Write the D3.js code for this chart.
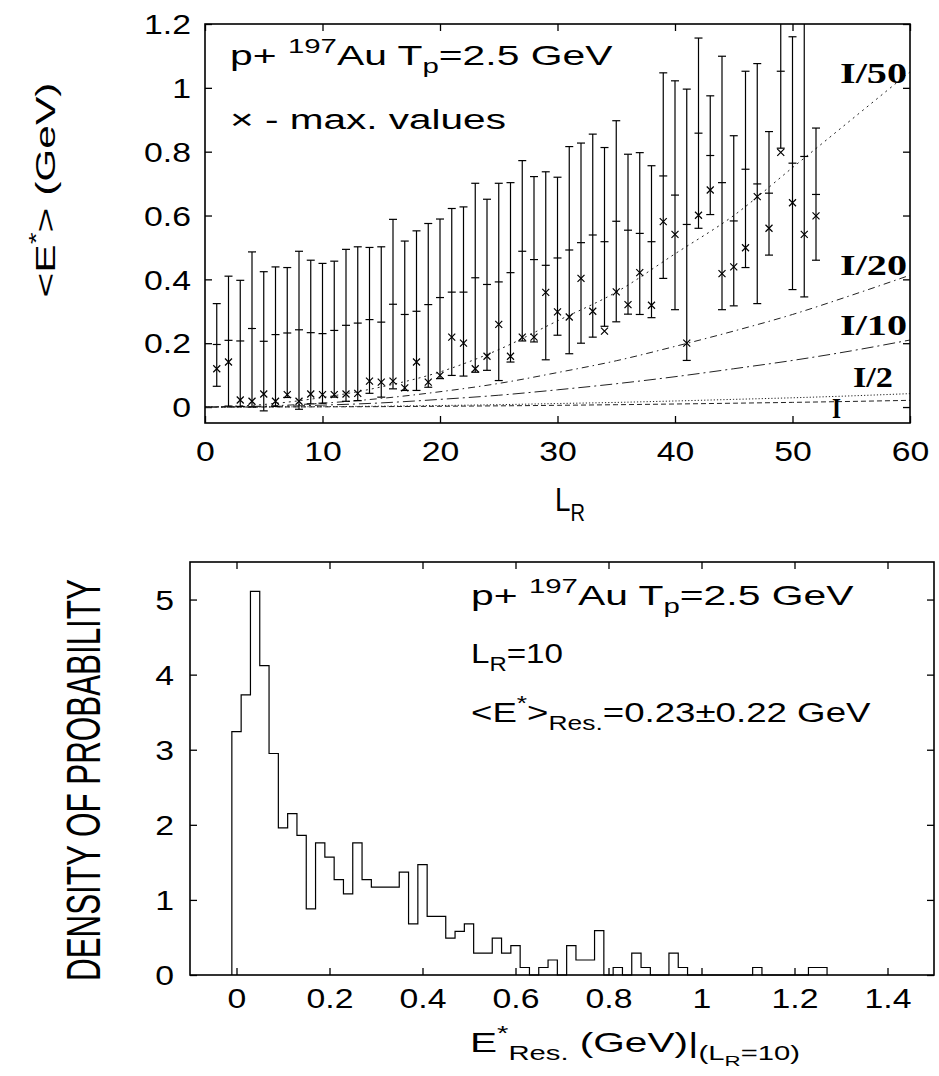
<!DOCTYPE html>
<html><head><meta charset="utf-8">
<script src="https://cdn.jsdelivr.net/npm/d3@7"></script>
<style>body{margin:0;background:#fff}svg{display:block}</style>
</head><body>
<svg id="c" width="939" height="1076"></svg>
<script>
// ---------- DATA: top panel ----------
const lr      = [1,2,3,4,5,6,7,8,9,10,11,12,13,14,15,16,17,18,19,20,21,22,23,24,25,26,27,28,29,30,31,32,33,34,35,36,37,38,39,40,41,42,43,44,45,46,47,48,49,50,51,52];
const meanE   = [0.196,0.209,0.207,0.246,0.206,0.227,0.232,0.242,0.233,0.23,0.24,0.256,0.263,0.274,0.266,0.322,0.29,0.3,0.321,0.343,0.36,0.36,0.405,0.384,0.392,0.421,0.488,0.462,0.444,0.467,0.492,0.515,0.539,0.518,0.582,0.554,0.544,0.518,0.724,0.664,0.572,0.858,0.788,0.703,0.583,0.745,0.699,0.67,1.052,0.764,0.785,0.666];
const lowE    = [0.065,0.003,0.002,0.0,-0.012,0.002,0.03,-0.007,0.01,0.012,0.031,0.018,0.02,0.043,0.031,0.057,0.052,0.052,0.062,0.089,0.099,0.097,0.109,0.115,0.083,0.141,0.207,0.204,0.148,0.225,0.167,0.2,0.219,0.253,0.267,0.291,0.29,0.28,0.403,0.305,0.146,0.56,0.603,0.305,0.317,0.437,0.324,0.476,0.811,0.368,0.345,0.46];
const highE   = [0.324,0.41,0.397,0.486,0.424,0.439,0.437,0.488,0.46,0.45,0.457,0.494,0.502,0.5,0.502,0.588,0.52,0.552,0.575,0.589,0.622,0.627,0.701,0.651,0.701,0.703,0.772,0.722,0.737,0.72,0.816,0.827,0.855,0.813,0.897,0.792,0.797,0.756,1.047,1.022,0.996,1.156,0.975,1.099,0.85,1.052,1.076,0.863,1.3,1.16,1.25,0.874];
const maxE    = [0.12,0.141,0.022,0.018,0.041,0.018,0.039,0.018,0.041,0.039,0.039,0.041,0.043,0.081,0.078,0.081,0.06,0.141,0.078,0.099,0.219,0.2,0.12,0.159,0.259,0.159,0.219,0.219,0.359,0.298,0.282,0.403,0.3,0.238,0.361,0.321,0.421,0.319,0.581,0.541,0.2,0.601,0.68,0.418,0.439,0.499,0.659,0.56,0.798,0.64,0.541,0.599];

const curveL   = [0,5,10,15,20,25,30,35,40,45,50,55,60];
const curveI50 = [0,0.008,0.03,0.063,0.11,0.18,0.27,0.36,0.48,0.6,0.75,0.9,1.05];
const curveI20 = [0,0.003,0.012,0.027,0.048,0.074,0.108,0.145,0.19,0.238,0.29,0.35,0.413];
const curveI10 = [0,0.0015,0.006,0.013,0.024,0.037,0.054,0.073,0.095,0.12,0.146,0.176,0.21];
const curveI2  = [0,0.0003,0.0012,0.0027,0.0048,0.0074,0.011,0.0145,0.019,0.024,0.029,0.035,0.042];
const curveI1  = [0,0.0002,0.0006,0.0013,0.0024,0.0037,0.0054,0.0073,0.0095,0.012,0.0146,0.0176,0.021];
const curveNames = ["I/50","I/20","I/10","I/2","I"];

const topXTicks = [0,10,20,30,40,50,60];
const topYTicks = [0,0.2,0.4,0.6,0.8,1,1.2];

// ---------- DATA: bottom panel (histogram, bin width 0.02 GeV, first edge -0.01) ----------
const histDensity = [3.24,3.73,5.11,4.12,2.95,1.96,2.15,1.86,0.88,1.76,1.57,1.27,1.08,1.76,1.27,1.17,1.17,1.17,1.37,0.68,1.47,0.78,0.78,0.49,0.58,0.68,0.29,0.29,0.49,0.29,0.39,0.1,0,0.1,0.2,0,0.39,0.2,0.2,0.59,0,0.1,0,0.29,0.1,0,0,0.29,0.1,0,0,0,0,0,0,0,0.1,0,0,0,0,0,0.1,0.1];
const histFirstEdge = -0.01, histBinWidth = 0.02;
const botXTicks = [0,0.2,0.4,0.6,0.8,1,1.2,1.4];
const botYTicks = [0,1,2,3,4,5];

// ---------- LAYOUT ----------
const SANS = "'Liberation Sans', Arial, Helvetica, sans-serif";
const SERIF = "'Liberation Serif', 'Times New Roman', serif";
const svg = d3.select("#c");
const TXS = 1.25; // horizontal stretch of tick labels

const x1 = d3.scaleLinear([0,60],[205,910]);
const y1 = d3.scaleLinear([-0.05,1.2],[423,24]);
const x2 = d3.scaleLinear([-0.1,1.5],[190,934]);
const y2 = d3.scaleLinear([0,5.5],[975,562]);

function stretchLabels(sel, s){
  sel.selectAll(".tick text").each(function(){
    const w = this.getComputedTextLength();
    this.setAttribute("textLength", w*s);
    this.setAttribute("lengthAdjust","spacingAndGlyphs");
  });
}
function styleAxis(g){
  g.select(".domain").remove();
  g.selectAll(".tick line").attr("stroke","#000").attr("stroke-width",1.3);
  g.selectAll(".tick text").attr("fill","#000").attr("font-family",SANS).attr("font-size",27);
}

function rich(parent, x, y, parts, opt){
  const g = parent.append("g");
  const F = opt.size;
  const t = g.append("text").attr("font-family", opt.family||SANS).attr("font-size",F)
     .attr("font-weight", opt.weight||"normal").attr("fill","#000");
  let cur = 0;
  parts.forEach(p=>{
    let lvl=0, fs=F;
    if(p.sup){lvl=-0.42*F; fs=0.72*F;}
    if(p.sub){lvl=0.3*F; fs=0.72*F;}
    if(p.sub2){lvl=0.5*F; fs=0.55*F;}
    t.append("tspan").attr("font-size",fs).attr("dy",lvl-cur).text(p.t);
    cur=lvl;
  });
  const bb = t.node().getBBox();
  const s = opt.width ? opt.width/bb.width : 1;
  const h = opt.hscale || 1;
  if(opt.rotate){
    t.attr("x", -(bb.x+bb.width/2));
    g.attr("transform",`translate(${x},${y}) rotate(-90) scale(${s},${h})`);
  } else {
    t.attr("x", -bb.x);
    g.attr("transform",`translate(${x},${y}) scale(${s},${h})`);
  }
  return g;
}

// ================= TOP PANEL =================
const topG = svg.append("g");
svg.append("defs").append("clipPath").attr("id","clipTop")
  .append("rect").attr("x",x1(0)).attr("y",y1(1.2)).attr("width",x1(60)-x1(0)).attr("height",y1(-0.05)-y1(1.2));

const gx1 = topG.append("g").attr("transform",`translate(0,${y1(-0.05)})`)
  .call(d3.axisBottom(x1).tickValues(topXTicks).tickSize(-7).tickPadding(19).tickFormat(d3.format("d")));
styleAxis(gx1); stretchLabels(gx1, TXS);
const gx1t = topG.append("g").attr("transform",`translate(0,${y1(1.2)})`)
  .call(d3.axisTop(x1).tickValues(topXTicks).tickSize(-7).tickFormat(""));
styleAxis(gx1t);
const gy1 = topG.append("g").attr("transform",`translate(${x1(0)},0)`)
  .call(d3.axisLeft(y1).tickValues(topYTicks).tickSize(-7).tickPadding(14).tickFormat(d3.format("~g")));
styleAxis(gy1); stretchLabels(gy1, TXS);
gy1.selectAll(".tick text").attr("dy","0.36em");
const gy1r = topG.append("g").attr("transform",`translate(${x1(60)},0)`)
  .call(d3.axisRight(y1).tickValues(topYTicks).tickSize(-7).tickFormat(""));
styleAxis(gy1r);

const curveSets = [curveI50, curveI20, curveI10, curveI2, curveI1];
const dashes = ["2,4","7,4,1.5,4","12,4,2,4","1.2,2","5,3"];
const line1 = d3.line().x((d,i)=>x1(curveL[i])).y(d=>y1(d)).curve(d3.curveMonotoneX);
const plot1 = topG.append("g").attr("clip-path","url(#clipTop)");
plot1.selectAll("path.curve").data(curveSets).join("path").attr("class","curve")
  .attr("d", d=>line1(d)).attr("fill","none").attr("stroke","#222").attr("stroke-width",1)
  .attr("stroke-dasharray",(d,i)=>dashes[i]);

const pts = lr.map((L,i)=>({L, m:meanE[i], lo:lowE[i], hi:highE[i], mx:maxE[i]}));
const eb = plot1.append("g").attr("stroke","#000").attr("stroke-width",1.2);
const cap = 4;
eb.selectAll("line.v").data(pts).join("line").attr("class","v")
  .attr("x1",d=>x1(d.L)).attr("x2",d=>x1(d.L)).attr("y1",d=>y1(d.lo)).attr("y2",d=>y1(d.hi));
eb.selectAll("line.lo").data(pts).join("line").attr("class","lo")
  .attr("x1",d=>x1(d.L)-cap).attr("x2",d=>x1(d.L)+cap).attr("y1",d=>y1(d.lo)).attr("y2",d=>y1(d.lo));
eb.selectAll("line.hi").data(pts).join("line").attr("class","hi")
  .attr("x1",d=>x1(d.L)-cap).attr("x2",d=>x1(d.L)+cap).attr("y1",d=>y1(d.hi)).attr("y2",d=>y1(d.hi));
eb.selectAll("line.m").data(pts).join("line").attr("class","m")
  .attr("x1",d=>x1(d.L)-cap).attr("x2",d=>x1(d.L)+cap).attr("y1",d=>y1(d.m)).attr("y2",d=>y1(d.m));
const xs = 3.5;
eb.selectAll("path.x").data(pts).join("path").attr("class","x")
  .attr("d",d=>{const cx=x1(d.L), cy=y1(d.mx);
    return `M${cx-xs},${cy-xs}L${cx+xs},${cy+xs}M${cx-xs},${cy+xs}L${cx+xs},${cy-xs}`;});

topG.append("rect").attr("x",x1(0)).attr("y",y1(1.2)).attr("width",x1(60)-x1(0)).attr("height",y1(-0.05)-y1(1.2))
  .attr("fill","none").attr("stroke","#000").attr("stroke-width",1.6);

rich(topG, 230, 65, [{t:"p+ "},{t:"197",sup:true},{t:"Au T"},{t:"p",sub:true},{t:"=2.5 GeV"}], {size:28, width:383});
rich(topG, 230, 129, [{t:"× - max. values"}], {size:28, width:276});
const lblPos = [[840,83,67],[840,275,67],[840,335,67],[853,387,40],[832,418,9]];
curveNames.forEach((n,i)=> rich(topG, lblPos[i][0], lblPos[i][1], [{t:n}], {size:30, family:SERIF, weight:"bold", width:lblPos[i][2]}));
rich(topG, 555, 511, [{t:"L"},{t:"R",sub:true}], {size:34, width:30});
rich(topG, 55, 190, [{t:"<E"},{t:"*",sup:true},{t:"> (GeV)"}], {size:28, width:215, rotate:true});

// ================= BOTTOM PANEL =================
const botG = svg.append("g");
const gx2 = botG.append("g").attr("transform",`translate(0,${y2(0)})`)
  .call(d3.axisBottom(x2).tickValues(botXTicks).tickSize(-7).tickPadding(14).tickFormat(d3.format("~g")));
styleAxis(gx2); stretchLabels(gx2, TXS);
const gx2t = botG.append("g").attr("transform",`translate(0,${y2(5.5)})`)
  .call(d3.axisTop(x2).tickValues(botXTicks).tickSize(-7).tickFormat(""));
styleAxis(gx2t);
const gy2 = botG.append("g").attr("transform",`translate(${x2(-0.1)},0)`)
  .call(d3.axisLeft(y2).tickValues(botYTicks).tickSize(-7).tickPadding(16).tickFormat(d3.format("d")));
styleAxis(gy2); stretchLabels(gy2, TXS);
gy2.selectAll(".tick text").attr("dy","0.36em");
const gy2r = botG.append("g").attr("transform",`translate(${x2(1.5)},0)`)
  .call(d3.axisRight(y2).tickValues(botYTicks).tickSize(-7).tickFormat(""));
styleAxis(gy2r);

const edges = histDensity.map((d,i)=>histFirstEdge + i*histBinWidth);
const stepPts = [[edges[0],0]].concat(histDensity.map((d,i)=>[edges[i],d]));
stepPts.push([histFirstEdge + histDensity.length*histBinWidth, histDensity[histDensity.length-1]]);
stepPts.push([histFirstEdge + histDensity.length*histBinWidth, 0]);
const line2 = d3.line().x(d=>x2(d[0])).y(d=>y2(d[1])).curve(d3.curveStepAfter);
botG.append("path").attr("d",line2(stepPts)).attr("fill","none").attr("stroke","#000").attr("stroke-width",1.2);

botG.append("rect").attr("x",x2(-0.1)).attr("y",y2(5.5)).attr("width",x2(1.5)-x2(-0.1)).attr("height",y2(0)-y2(5.5))
  .attr("fill","none").attr("stroke","#000").attr("stroke-width",1.6);

rich(botG, 471, 605, [{t:"p+ "},{t:"197",sup:true},{t:"Au T"},{t:"p",sub:true},{t:"=2.5 GeV"}], {size:28, width:383});
rich(botG, 471, 663, [{t:"L"},{t:"R",sub:true},{t:"=10"}], {size:28, width:92});
rich(botG, 471, 722, [{t:"<E"},{t:"*",sup:true},{t:">"},{t:"Res.",sub:true},{t:"=0.23±0.22 GeV"}], {size:28, width:400});
rich(botG, 470, 1052, [{t:"E"},{t:"*",sup:true},{t:"Res.",sub:true},{t:" (GeV)|"},{t:"(L",sub:true},{t:"R",sub2:true},{t:"=10)",sub:true}], {size:28, width:330});
rich(botG, 100, 780, [{t:"DENSITY OF PROBABILITY"}], {size:34, width:402, hscale:1.4, rotate:true});
</script>
</body></html>
